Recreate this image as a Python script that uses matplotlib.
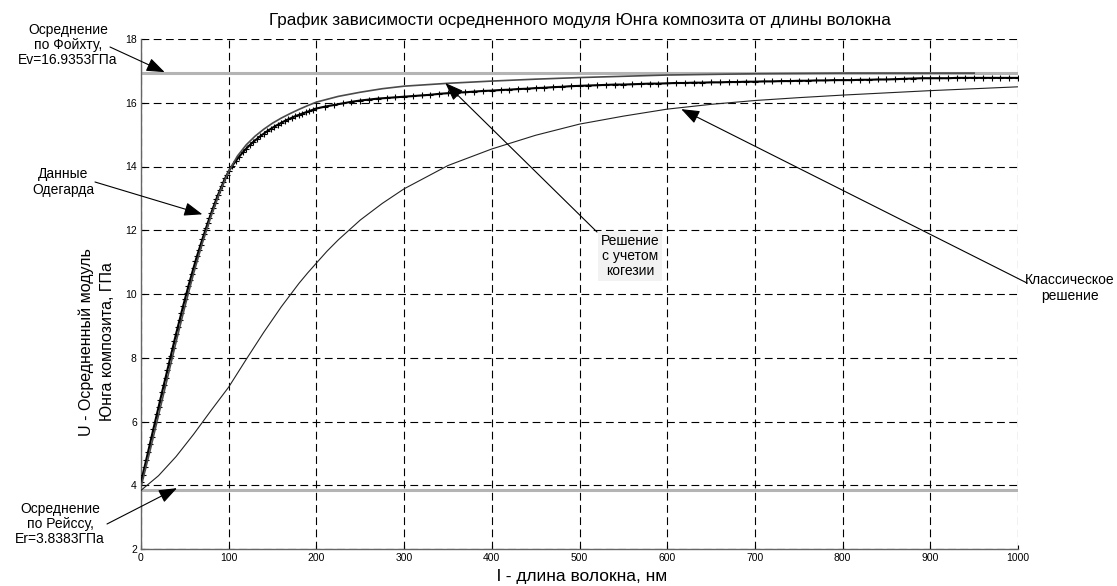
import numpy as np
import matplotlib
matplotlib.use("Agg")
import matplotlib.pyplot as plt

plt.rcParams['font.family'] = ['Liberation Sans', 'DejaVu Sans']

W, H = 1117, 586

# Voigt / Reuss bounds, GPa
E_voigt = 16.9353
E_reuss = 3.8383

# Odegaard data (points with + markers)
x_data = np.concatenate([np.arange(0, 100, 2), np.arange(100, 200, 4), np.arange(200, 1001, 10)])
y_data = [
    4.10, 4.33, 4.57, 4.80, 5.04, 5.28, 5.51, 5.75, 5.98, 6.22,
    6.45, 6.69, 6.92, 7.15, 7.38, 7.61, 7.84, 8.07, 8.30, 8.52,
    8.75, 8.97, 9.19, 9.41, 9.62, 9.83, 10.04, 10.24, 10.44, 10.64,
    10.83, 11.02, 11.20, 11.38, 11.55, 11.72, 11.89, 12.06, 12.22, 12.38,
    12.54, 12.69, 12.84, 12.98, 13.12, 13.25, 13.38, 13.51, 13.63, 13.74,
    13.85, 14.02, 14.17, 14.31, 14.44, 14.56, 14.67, 14.77, 14.86, 14.95,
    15.03, 15.11, 15.18, 15.25, 15.31, 15.37, 15.43, 15.48, 15.53, 15.58,
    15.62, 15.66, 15.70, 15.74, 15.78,
    15.82, 15.88, 15.93, 15.98, 16.03, 16.07, 16.10, 16.13, 16.15, 16.17,
    16.19, 16.21, 16.23, 16.25, 16.28, 16.30, 16.32, 16.33, 16.35, 16.37,
    16.38, 16.40, 16.41, 16.43, 16.44, 16.46, 16.47, 16.49, 16.50, 16.52,
    16.53, 16.54, 16.55, 16.56, 16.57, 16.57, 16.58, 16.59, 16.60, 16.60,
    16.61, 16.62, 16.62, 16.63, 16.63, 16.64, 16.64, 16.65, 16.65, 16.66,
    16.66, 16.67, 16.67, 16.68, 16.68, 16.69, 16.69, 16.70, 16.70, 16.71,
    16.71, 16.71, 16.72, 16.72, 16.73, 16.73, 16.74, 16.75, 16.76, 16.77,
    16.77, 16.77, 16.77, 16.78, 16.78, 16.78, 16.78, 16.78, 16.78, 16.78, 16.78,
]

# solution with cohesion
x_coh = [0, 10, 20, 30, 40, 50, 60, 70, 80, 90, 100, 110, 120, 130, 140, 150, 160, 170, 180, 190,
         200, 225, 250, 275, 300, 350, 400, 450, 500, 550, 600, 650, 700, 750, 800, 850, 900, 950]
y_coh = [3.95, 5.05, 6.20, 7.35, 8.50, 9.60, 10.65, 11.60, 12.45, 13.20, 13.85, 14.33, 14.68, 14.95,
         15.17, 15.36, 15.52, 15.66, 15.79, 15.91, 16.02, 16.20, 16.33, 16.44, 16.52, 16.61, 16.68,
         16.74, 16.79, 16.83, 16.87, 16.89, 16.91, 16.92, 16.93, 16.93, 16.93, 16.93]

# classical solution
x_cls = [0, 20, 40, 60, 80, 100, 120, 140, 160, 180, 190, 200, 212, 225, 250, 275, 300, 350, 400,
         450, 500, 550, 600, 650, 700, 750, 800, 850, 900, 950, 1000]
y_cls = [3.84, 4.30, 4.90, 5.60, 6.35, 7.08, 7.95, 8.80, 9.60, 10.33, 10.66, 10.97, 11.34, 11.70,
         12.32, 12.84, 13.30, 14.03, 14.55, 14.98, 15.33, 15.58, 15.80, 15.95, 16.07, 16.16, 16.24,
         16.31, 16.38, 16.44, 16.50]


def fp(x, y):
    # figure pixel (from top-left) -> figure fraction
    return (x / W, 1 - y / H)


fig = plt.figure(figsize=(W / 100, H / 100), dpi=100)
ax = fig.add_axes([141 / W, 1 - 549 / H, (1018 - 141) / W, (549 - 39) / H])

ax.plot([0, 1000], [E_voigt, E_voigt], color='#b4b4b4', lw=2.2, zorder=2)
ax.plot([0, 1000], [E_reuss, E_reuss], color='#b4b4b4', lw=2.2, zorder=2)
ax.plot(x_cls, y_cls, color='#222222', lw=0.8, zorder=3)
ax.plot(x_data, y_data, color='black', lw=1.5, marker='+', ms=5, mew=0.8, zorder=4)
ax.plot(x_coh, y_coh, color='#4a4a4a', lw=1.2, zorder=5)

ax.set_xlim(0, 1000)
ax.set_ylim(2, 18)
ax.set_xticks(np.arange(0, 1001, 100))
ax.set_yticks(np.arange(2, 19, 2))
ax.tick_params(direction='in', length=3, labelsize=7.5, pad=3, top=False, right=False)
ax.grid(True, color='black', lw=0.8, linestyle=(0, (7, 4)))
for s in ['top', 'right']:
    ax.spines[s].set_visible(False)
for s in ['left', 'bottom']:
    ax.spines[s].set_color('#666666')
    ax.spines[s].set_linewidth(1.0)

fig.text(*fp(579.5, 20), 'График зависимости осредненного модуля Юнга композита от длины волокна',
         ha='center', va='center', fontsize=12.3)
fig.text(*fp(582, 577), 'l - длина волокна, нм', ha='center', va='center', fontsize=12.5)
fig.text(*fp(97, 342), 'U - Осредненный модуль\nЮнга композита, ГПа', ha='center', va='center',
         fontsize=11.5, rotation=90, linespacing=1.5)

tf = 10
fig.text(*fp(68, 45), 'Осреднение\nпо Фойхту,\nEv=16.9353ГПа', ha='center', va='center',
         fontsize=tf, linespacing=1.1)
fig.text(*fp(63, 182), 'Данные\nОдегарда', ha='center', va='center', fontsize=tf, linespacing=1.1)
fig.text(*fp(60, 524), 'Осреднение\nпо Рейссу,\nEr=3.8383ГПа', ha='center', va='center',
         fontsize=tf, linespacing=1.1)
fig.text(*fp(630, 256), 'Решение\nс учетом\nкогезии', ha='center', va='center', fontsize=tf,
         linespacing=1.1, bbox=dict(facecolor='#f2f2f2', edgecolor='none', pad=2))
fig.text(*fp(1070, 288), 'Классическое\nрешение', ha='center', va='center', fontsize=tf,
         linespacing=1.1)

arrows = [
    ((27, 16.96), (110, 47)),
    ((70, 12.5), (95, 182)),
    ((41, 3.91), (107, 524)),
    ((347, 16.62), (597, 232)),
    ((616, 15.80), (1027, 283)),
]
for tip, start in arrows:
    ax.annotate('', xy=tip, xycoords='data', xytext=fp(*start), textcoords='figure fraction',
                arrowprops=dict(arrowstyle='-|>,head_length=0.8,head_width=0.3', color='black',
                                lw=0.8, shrinkA=0, shrinkB=0, mutation_scale=14),
                annotation_clip=False, zorder=6)

fig.savefig('out.png', dpi=100, facecolor='white')
